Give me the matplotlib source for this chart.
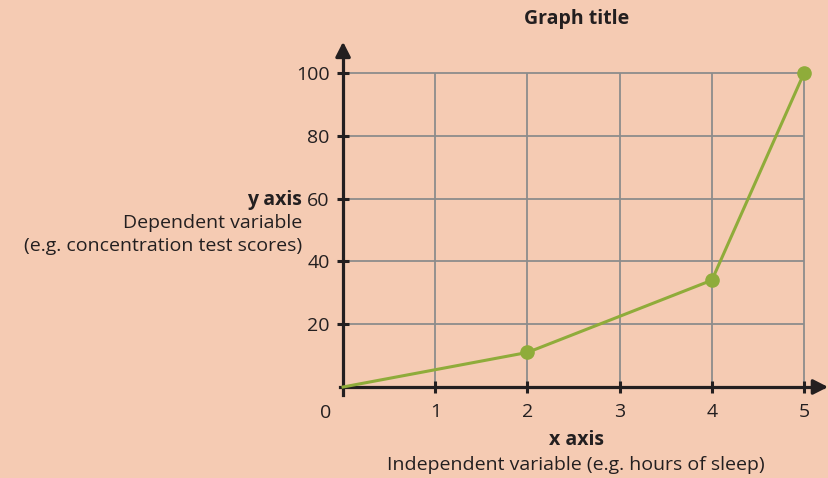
import matplotlib.pyplot as plt

plt.rcParams["font.family"] = ["Open Sans", "DejaVu Sans"]

# data
hours = [0, 2, 4, 5]
scores = [0, 11, 34, 100]
x_ticks = [1, 2, 3, 4, 5]
y_ticks = [20, 40, 60, 80, 100]

bg = "#f5cbb3"
ink = "#231f20"
green = "#8fac3a"
grid_c = "#8c8c8c"

fig = plt.figure(figsize=(8.29, 4.78), dpi=100, facecolor=bg)
ax = fig.add_axes([0.4027, 0.1707, 0.6006, 0.7555])
ax.set_facecolor(bg)
ax.set_xlim(-0.1, 5.3)
ax.set_ylim(-3, 112)

# grid inside the 0..5 / 0..100 box
ax.hlines(y_ticks, 0, 5, color=grid_c, lw=1.3, zorder=1)
ax.vlines(x_ticks, 0, 100, color=grid_c, lw=1.3, zorder=1)

# axes with arrow heads
for s in ["top", "right"]:
    ax.spines[s].set_visible(False)
ax.spines["left"].set_position(("data", 0))
ax.spines["bottom"].set_position(("data", 0))
ax.spines["left"].set_bounds(-2.5, 108)
ax.spines["bottom"].set_bounds(-0.03, 5.2)
for s in ["left", "bottom"]:
    ax.spines[s].set_linewidth(2.3)
    ax.spines[s].set_color(ink)
    ax.spines[s].set_zorder(3)
head = dict(arrowstyle="-|>,head_length=0.55,head_width=0.28",
            color=ink, lw=2.3, mutation_scale=16)
ax.annotate("", xy=(5.29, 0), xytext=(5.1, 0), arrowprops=head,
            annotation_clip=False)
ax.annotate("", xy=(0, 110.8), xytext=(0, 104), arrowprops=head,
            annotation_clip=False)

ax.set_xticks(x_ticks)
ax.set_yticks(y_ticks)
ax.tick_params(direction="inout", length=9, width=2.2, color=ink,
               labelsize=14, labelcolor=ink)
ax.tick_params(axis="y", pad=5)
ax.tick_params(axis="x", pad=7)
ax.text(-0.13, -5.5, "0", ha="right", va="top", fontsize=14, color=ink)

# the series
ax.plot(hours, scores, color=green, lw=2.2, zorder=4, clip_on=False,
        marker="o", markersize=9.5, markevery=[1, 2, 3])

# text
fig.text(0.695, 0.960, "Graph title", ha="center", va="center",
         fontsize=14, fontweight="bold", color=ink)
fig.text(0.695, 0.079, "x axis", ha="center", va="center",
         fontsize=14, fontweight="bold", color=ink)
fig.text(0.695, 0.027, "Independent variable (e.g. hours of sleep)",
         ha="center", va="center", fontsize=14, color=ink)
fig.text(0.364, 0.582, "y axis", ha="right", va="center",
         fontsize=14, fontweight="bold", color=ink)
fig.text(0.364, 0.534, "Dependent variable", ha="right", va="center",
         fontsize=14, color=ink)
fig.text(0.364, 0.485, "(e.g. concentration test scores)", ha="right",
         va="center", fontsize=14, color=ink)

fig.savefig("out.png", dpi=100, facecolor=bg)
